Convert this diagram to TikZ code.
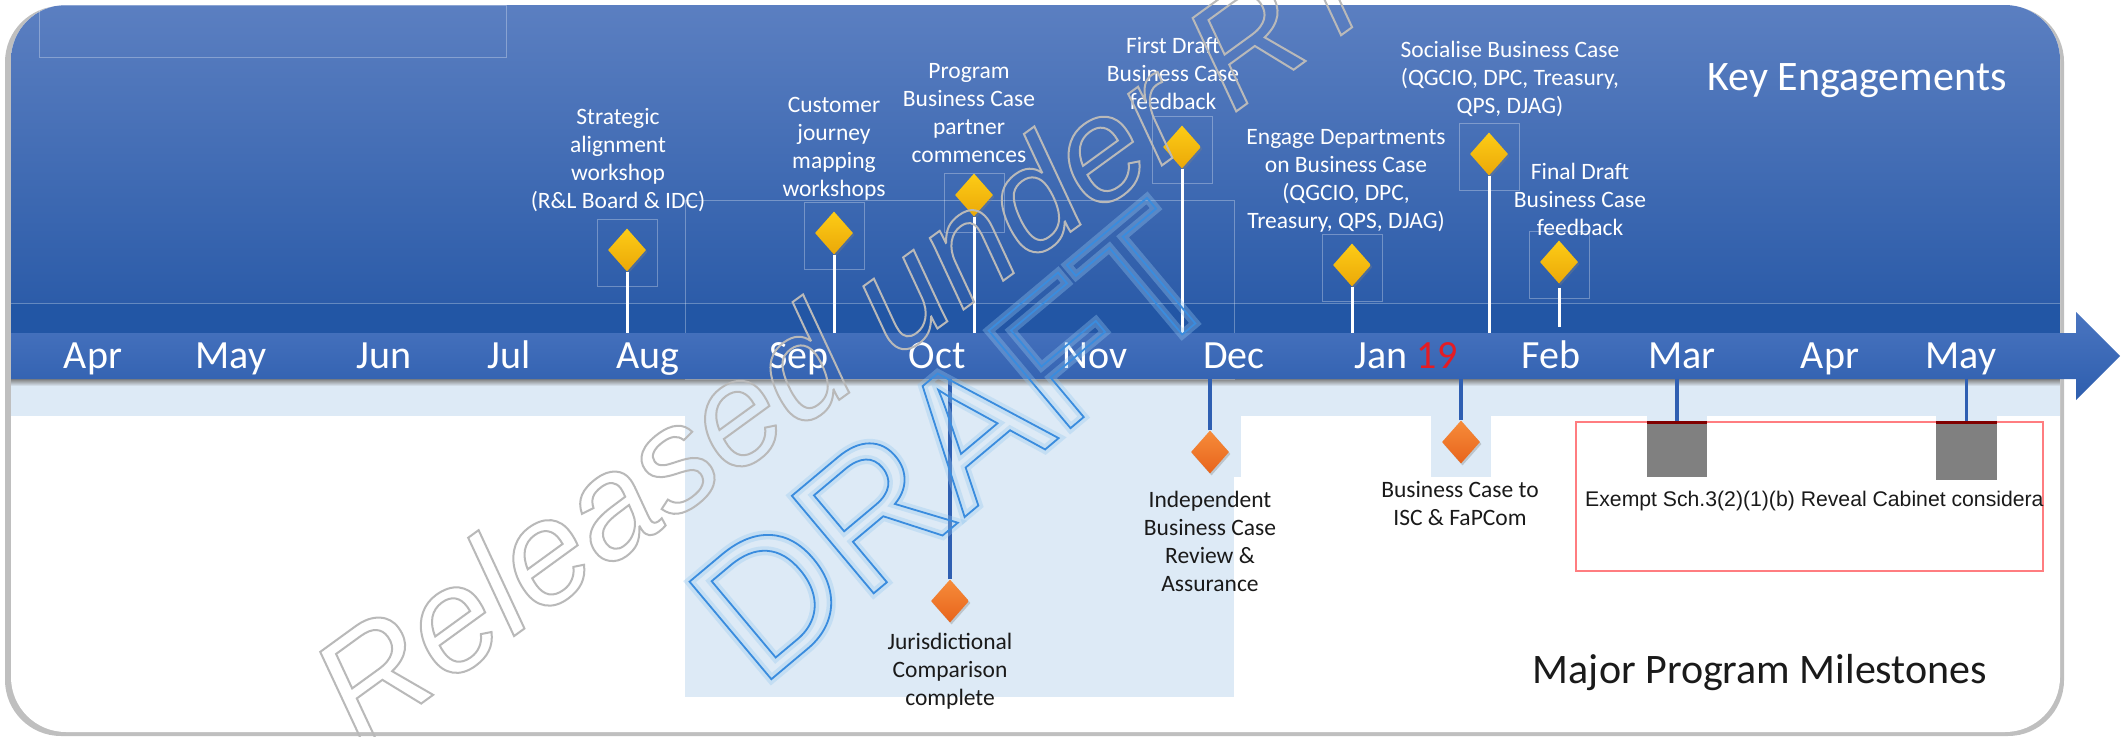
\documentclass[tikz,border=0pt]{standalone}
\usepackage{fontspec}
\setmainfont{Carlito}
\newfontfamily\arialfont{Liberation Sans}
\usepackage{tikz}
\usetikzlibrary{shapes, arrows, positioning, calc, shadows}

\definecolor{skytop}{RGB}{91,127,193}
\definecolor{skybot}{RGB}{44,92,169}
\definecolor{skyband}{RGB}{34,86,165}
\definecolor{bartop}{RGB}{74,117,192}
\definecolor{barbot}{RGB}{46,94,174}
\definecolor{paleblue}{RGB}{221,234,246}
\definecolor{stemblue}{RGB}{47,95,178}
\definecolor{ketop}{RGB}{253,204,22}
\definecolor{kebot}{RGB}{235,168,8}
\definecolor{mstop}{RGB}{246,140,58}
\definecolor{msbot}{RGB}{232,100,28}
\definecolor{boxred}{RGB}{255,125,128}
\definecolor{darkred}{RGB}{128,0,0}
\definecolor{sqgrey}{RGB}{128,128,128}
\definecolor{yrred}{RGB}{228,28,36}
\definecolor{wmgrey}{RGB}{185,185,185}
\definecolor{wmblue}{RGB}{58,140,222}
\definecolor{wmglow}{RGB}{150,200,240}
\definecolor{inktext}{RGB}{26,26,26}

% outlined (stroked) glyphs for the watermarks
\newcommand{\strokedtext}[2]{\special{pdf:literal 1 Tr #1 w}#2\special{pdf:literal 0 Tr}}

\begin{document}
\begin{tikzpicture}[
  x=1pt, y=-1pt,
  kediam/.style={diamond, minimum width=38, minimum height=43, inner sep=0, top color=ketop, bottom color=kebot, drop shadow={opacity=0.35, shadow xshift=1.5pt, shadow yshift=-2pt}},
  msdiam/.style={kediam, top color=mstop, bottom color=msbot},
  kelabel/.style={align=center, inner sep=0, text=white, font=\fontsize{23.5}{28}\selectfont},
  mslabel/.style={kelabel, text=inktext},
  monthlbl/.style={anchor=base, inner sep=0, text=white, font=\fontsize{40}{48}\selectfont},
  kestem/.style={white, line width=3},
  msstem/.style={stemblue, line width=3.5},
  faint/.style={white, opacity=0.3, line width=0.8},
  sqbox/.style={fill=sqgrey, inner sep=0, anchor=north},
  wmark/.style={inner sep=0, font=\arialfont}
]
\useasboundingbox (0,0) rectangle (2127,736);

% Frame with shadow
\fill[black!25, rounded corners=56] (5,6) rectangle (2064,736);
\fill[white, rounded corners=55] (11,5) rectangle (2060,732);

\begin{scope}
  \clip[rounded corners=55] (11,5) rectangle (2060,732);
  \shade[top color=skytop, bottom color=skybot] (11,5) rectangle (2060,303);
  \fill[skyband] (11,303) rectangle (2060,333);
  \fill[paleblue] (11,379) rectangle (2060,416);
  \fill[paleblue] (685,379) rectangle (1234,697);
  \fill[paleblue] (1180,413) rectangle (1241,477);
  \fill[paleblue] (1431,413) rectangle (1491,477);
  \fill[paleblue] (1647,412) rectangle (1707,477);
  \fill[paleblue] (1936,412) rectangle (1997,480);
  \shade[top color=black!50, bottom color=paleblue] (11,379) rectangle (2060,386);
\end{scope}

% faint guide lines
\draw[faint] (11,303) -- (2060,303);
\draw[faint] (39,5) rectangle (506,57);
\draw[faint] (685,200) rectangle (1234,379);

% Timeline arrow
\shade[top color=bartop, bottom color=barbot] (11,333) -- (2076,333) -- (2076,312) -- (2120,356) -- (2076,400) -- (2076,379) -- (11,379) -- cycle;
\coordinate (barTop) at (0,333);
\coordinate (barBot) at (0,379);

% Months
\node[monthlbl] (mAprA) at (93,368)   {Apr};
\node[monthlbl] (mMayA) at (231,368)  {May};
\node[monthlbl] (mJun)  at (384,368)  {Jun};
\node[monthlbl] (mJul)  at (509,368)  {Jul};
\node[monthlbl] (mAug)  at (648,368)  {Aug};
\node[monthlbl] (mSep)  at (799,368)  {Sep};
\node[monthlbl] (mOct)  at (937,368)  {Oct};
\node[monthlbl] (mNov)  at (1095,368) {Nov};
\node[monthlbl] (mDec)  at (1234,368) {Dec};
\node[monthlbl] (mJan)  at (1406,368) {Jan \textcolor{yrred}{19}};
\node[monthlbl] (mFeb)  at (1551,368) {Feb};
\node[monthlbl] (mMar)  at (1682,368) {Mar};
\node[monthlbl] (mAprB) at (1830,368) {Apr};
\node[monthlbl] (mMayB) at (1961,368) {May};

% Key engagements
\node[kediam] (dStrat)  at (627,250)  {};
\node[kediam] (dCust)   at (834,233)  {};
\node[kediam] (dProg)   at (974,195)  {};
\node[kediam] (dFirst)  at (1182,147) {};
\node[kediam] (dEngage) at (1352,265) {};
\node[kediam] (dSocial) at (1489,154) {};
\node[kediam] (dFinal)  at (1559,262) {};

\draw[faint] ($(dStrat)+(-30,-31)$)  rectangle ($(dStrat)+(30,36)$);
\draw[faint] ($(dCust)+(-30,-31)$)   rectangle ($(dCust)+(30,36)$);
\draw[faint] ($(dProg)+(-30,-22)$)   rectangle ($(dProg)+(30,37)$);
\draw[faint] ($(dFirst)+(-30,-31)$)  rectangle ($(dFirst)+(30,36)$);
\draw[faint] ($(dEngage)+(-30,-31)$) rectangle ($(dEngage)+(30,36)$);
\draw[faint] ($(dSocial)+(-30,-31)$) rectangle ($(dSocial)+(30,36)$);
\draw[faint] ($(dFinal)+(-30,-31)$)  rectangle ($(dFinal)+(30,36)$);

\draw[kestem] (dStrat.south)  -- (dStrat.south |- barTop);
\draw[kestem] (dCust.south)   -- (dCust.south |- barTop);
\draw[kestem] (dProg.south)   -- (dProg.south |- barTop);
\draw[kestem] (dFirst.south)  -- (dFirst.south |- barTop);
\draw[kestem] (dEngage.south) -- (dEngage.south |- barTop);
\draw[kestem] (dSocial.south) -- (dSocial.south |- barTop);
\draw[kestem, shorten <=4, shorten >=6] (dFinal.south) -- (dFinal.south |- barTop);

\node[kelabel] (lStrat)  at (618,160.5)  {Strategic\\alignment\\workshop\\(R\&L Board \& IDC)};
\node[kelabel] (lCust)   at (834,148.5)  {Customer\\journey\\mapping\\workshops};
\node[kelabel] (lProg)   at (969,113.5)  {Program\\Business Case\\partner\\commences};
\node[kelabel] (lFirst)  at (1173,74)    {First Draft\\Business Case\\feedback};
\node[kelabel] (lEngage) at (1346,181)   {Engage Departments\\on Business Case\\(QGCIO, DPC,\\Treasury, QPS, DJAG)};
\node[kelabel] (lSocial) at (1510,78.5)  {Socialise Business Case\\(QGCIO, DPC, Treasury,\\QPS, DJAG)};
\node[kelabel] (lFinal)  at (1580,199)   {Final Draft\\Business Case\\feedback};

% Major program milestones
\node[msdiam] (mJuris)  at (950,601)  {};
\node[msdiam] (mReview) at (1210,452) {};
\node[msdiam] (mISC)    at (1461,442) {};

\draw[msstem] (mJuris.north)  -- (mJuris.north |- barBot);
\draw[msstem] (mReview.north) -- (mReview.north |- barBot);
\draw[msstem] (mISC.north)    -- (mISC.north |- barBot);

\node[mslabel] (lJuris)  at (950,671)   {Jurisdictional\\Comparison\\complete};
\node[mslabel] (lReview) at (1210,541)  {Independent\\Business Case\\Review \&\\Assurance};
\node[mslabel] (lISC)    at (1460,503)  {Business Case to\\ISC \& FaPCom};

% Exempt block
\node[sqbox, minimum width=60, minimum height=55] (sqMar) at (1677,422)   {};
\node[sqbox, minimum width=61, minimum height=58] (sqMay) at (1966.5,422) {};
\draw[msstem] (sqMar.north) -- (sqMar.north |- barBot);
\draw[msstem] (sqMay.north) -- (sqMay.north |- barBot);
\draw[boxred, line width=2] (1576,422) rectangle (2043,571);
\draw[darkred, line width=3] (sqMar.north west) -- (sqMar.north east);
\draw[darkred, line width=3] (sqMay.north west) -- (sqMay.north east);
\node[anchor=base west, inner sep=0, text=inktext, font=\fontsize{21.2}{26}\arialfont] (tExempt) at (1585,506) {Exempt Sch.3(2)(1)(b) Reveal Cabinet considera};

% Titles
\node[anchor=base, inner sep=0, text=white, font=\fontsize{42}{50}\selectfont] (tKey) at (1857,90) {Key Engagements};
\node[anchor=base, inner sep=0, text=inktext, font=\fontsize{42}{50}\selectfont] (tMajor) at (1760,683) {Major Program Milestones};

% Watermarks
\begin{scope}[opacity=0.35]
  \node[wmark, rotate=40, text=wmglow, font=\fontsize{185}{190}\arialfont] (wmDraftGlow) at (955,442) {\strokedtext{9}{DRAFT}};
\end{scope}
\node[wmark, rotate=40, text=wmblue, font=\fontsize{185}{190}\arialfont] (wmDraft) at (955,442) {\strokedtext{1.8}{DRAFT}};
\node[wmark, rotate=36, anchor=base west, text=wmgrey, font=\fontsize{147}{150}\arialfont\itshape] (wmRel) at (360,748) {\strokedtext{2}{Released under RTI}};
\end{tikzpicture}
\end{document}
